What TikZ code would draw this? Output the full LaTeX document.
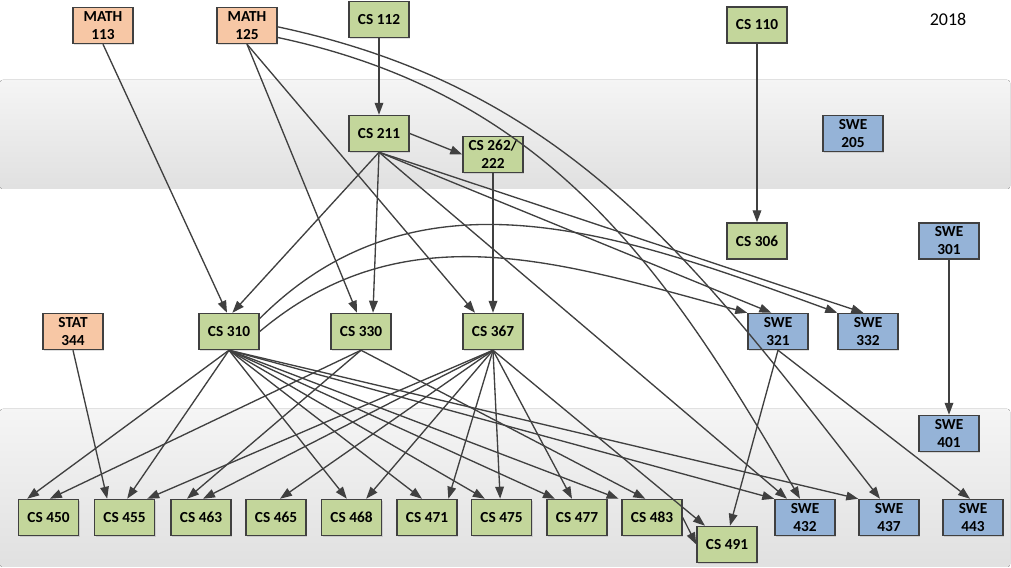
\documentclass[tikz,border=0pt]{standalone}
\usepackage{fontspec}
\setmainfont{Carlito}
\usetikzlibrary{arrows.meta,shadows}
\definecolor{wire}{HTML}{404040}
\definecolor{csgreen}{HTML}{C3D69B}
\definecolor{mathorange}{HTML}{F7C7A5}
\definecolor{sweblue}{HTML}{95B3D7}
\tikzset{every picture/.style = {x=0.75pt, y=0.75pt}}
\tikzset{box/.style = {draw=wire, line width=1.1pt, minimum width=45pt, minimum height=27pt,
  inner sep=0, align=center, font=\bfseries\fontsize{11.5}{13.5}\selectfont,
  drop shadow={shadow xshift=1pt, shadow yshift=-1pt, opacity=0.25}}}
\tikzset{cs/.style = {box, fill=csgreen}}
\tikzset{mth/.style = {box, fill=mathorange}}
\tikzset{swe/.style = {box, fill=sweblue}}
\tikzset{pre/.style = {draw=wire, line width=1pt, -{Triangle[length=9pt, width=6.5pt]}}}
\tikzset{band/.style = {top color=black!4, bottom color=black!12, rounded corners=2pt}}

\begin{document}
\begin{tikzpicture}
  \useasboundingbox (0,0) rectangle (1011,568);
  \fill[white] (0,0) rectangle (1011,568);
  \fill[band] (0,379) rectangle (1010,488);
  \fill[band] (0,1) rectangle (1010,159);

  \node[mth] (m113) at (103,542.5) {MATH\\113};
  \node[mth] (m125) at (247,542.5) {MATH\\125};
  \node[cs] (c112) at (379,548.5) {CS 112};
  \node[cs] (c110) at (757,543) {CS 110};
  \node[font=\fontsize{13.5}{16}\selectfont] (yr) at (948,548.5) {2018};
  \node[cs] (c211) at (379,434.5) {CS 211};
  \node[cs] (c262) at (493,413.5) {CS 262/\\222};
  \node[swe] (s205) at (853,434.5) {SWE\\205};
  \node[cs] (c306) at (757,327) {CS 306};
  \node[swe] (s301) at (949,327) {SWE\\301};
  \node[mth] (st344) at (73,236.5) {STAT\\344};
  \node[cs] (c310) at (229,236.5) {CS 310};
  \node[cs] (c330) at (361,236.5) {CS 330};
  \node[cs] (c367) at (493,236.5) {CS 367};
  \node[swe] (s321) at (778,236.5) {SWE\\321};
  \node[swe] (s332) at (868,236.5) {SWE\\332};
  \node[swe] (s401) at (949,134.5) {SWE\\401};
  \node[cs] (c450) at (48.5,50.5) {CS 450};
  \node[cs] (c455) at (124.5,50.5) {CS 455};
  \node[cs] (c463) at (201,50.5) {CS 463};
  \node[cs] (c465) at (276,50.5) {CS 465};
  \node[cs] (c468) at (351.5,50.5) {CS 468};
  \node[cs] (c471) at (427,50.5) {CS 471};
  \node[cs] (c475) at (501.5,50.5) {CS 475};
  \node[cs] (c477) at (577,50.5) {CS 477};
  \node[cs] (c483) at (652,50.5) {CS 483};
  \node[cs] (c491) at (727,23.5) {CS 491};
  \node[swe] (s432) at (805,50.5) {SWE\\432};
  \node[swe] (s437) at (889,50.5) {SWE\\437};
  \node[swe] (s443) at (973,50.5) {SWE\\443};

  \draw[pre] (c112.south) -- (c211.north);
  \draw[pre] (c211.east) -- (c262.west);
  \draw[pre] (c110.south) -- (c306.north);
  \draw[pre] (s301.south) -- (s401.north);
  \draw[pre] (m113.south) -- ([xshift=-1.5pt]c310.north);
  \draw[pre] (m125.south) -- ([xshift=-3pt]c330.north);
  \draw[pre] (m125.south) -- ([xshift=-13.5pt]c367.north);
  \draw[pre] ([yshift=-1pt]m125.east) to[out=-12, in=128] ([xshift=-6.75pt]s437.north);
  \draw[pre] ([yshift=-9pt]m125.east) to[out=-12, in=120] ([xshift=-3.75pt]s432.north);
  \draw[pre] (c211.south) -- ([xshift=2.5pt]c310.north);
  \draw[pre] (c211.south) -- ([xshift=9pt]c330.north);
  \draw[pre] (c211.south) -- ([xshift=-5pt]s321.north);
  \draw[pre] (c211.south) -- ([xshift=-3.5pt]s332.north);
  \draw[pre] (c211.south) -- ([xshift=-13.5pt]s432.north);
  \draw[pre] (c262.south) -- (c367.north);

  \draw[pre] ([yshift=9.75pt]c310.east) to[out=45, in=160] (s332.north west);
  \draw[pre] (c310.east) to[out=40, in=165] (s321.north west);
  \draw[pre] (st344.south) -- ([xshift=-13pt]c455.north);
  \draw[pre] (c310.south) -- ([xshift=-16pt]c450.north);
  \draw[pre] (c310.south) -- ([xshift=2pt]c455.north);
  \draw[pre] (c310.south) -- ([xshift=-3.5pt]c468.north);
  \draw[pre] (c310.south) -- ([xshift=-3.75pt]c471.north);
  \draw[pre] (c310.south) -- ([xshift=-12.5pt]c475.north);
  \draw[pre] (c310.south) -- ([xshift=-16.5pt]c477.north);
  \draw[pre] (c310.south) -- ([xshift=-2pt]c483.north west);
  \draw[pre] (c310.south) -- (s432.north west);
  \draw[pre] (c310.south) -- (s437.north west);
  \draw[pre] (c330.south) -- ([xshift=1pt]c450.north);
  \draw[pre] (c330.south) -- ([xshift=-10.5pt]c463.north);
  \draw[pre] (c330.south) -- ([xshift=-5pt]c483.north);
  \draw[pre] (c367.south) -- ([xshift=17pt]c455.north);
  \draw[pre] (c367.south) -- ([xshift=1.5pt]c463.north);
  \draw[pre] (c367.south) -- ([xshift=3pt]c465.north);
  \draw[pre] (c367.south) -- ([xshift=11pt]c468.north);
  \draw[pre] (c367.south) -- ([xshift=16pt]c471.north);
  \draw[pre] (c367.south) -- ([xshift=-1pt]c475.north);
  \draw[pre] (c367.south) -- ([xshift=-3.75pt]c477.north);
  \draw[pre] (c367.south) -- ([xshift=-16.5pt]c491.north);
  \draw[pre] (c483.east) -- (c491.west);
  \draw[pre] (s321.south) -- ([xshift=2.25pt]c491.north);
  \draw[pre] (s321.south) -- ([xshift=-2.25pt]s443.north);
\end{tikzpicture}
\end{document}
